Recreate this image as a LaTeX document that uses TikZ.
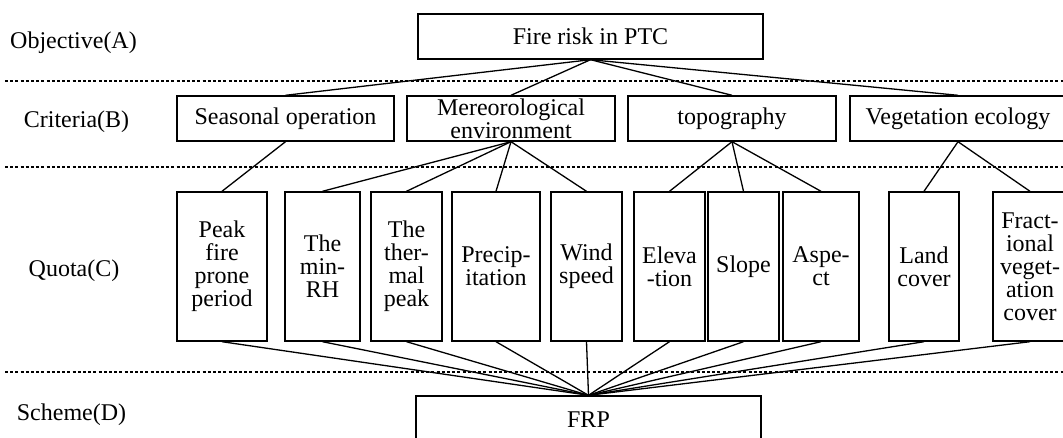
\documentclass[tikz,border=0pt]{standalone}
\usepackage{fontspec}
\setmainfont{Liberation Serif}

\begin{document}
\begin{tikzpicture}[x=1pt,y=-1pt,
    every node/.style={font=\fontsize{24}{23}\selectfont},
    box/.style={draw,line width=1.4pt,inner sep=0pt,align=center},
    crit/.style={box,minimum height=45pt},
    quota/.style={box,minimum height=149pt},
    link/.style={line width=1.3pt},
    level/.style={line width=1.3pt,dash pattern=on 3pt off 2.2pt}]
    \useasboundingbox (0,0) rectangle (1063,438);
    \clip (0,0) rectangle (1063,438);

    % level names
    \node (objA) at (73.5,42.5) {Objective(A)};
    \node (critB) at (76.5,122) {Criteria(B)};
    \node (quotaC) at (74,271) {Quota(C)};
    \node (schemeD) at (71.5,415) {Scheme(D)};

    % separators
    \draw[level] (5,81) -- (1063,81);
    \draw[level] (5,167) -- (1063,167);
    \draw[level] (5,372) -- (1063,372);

    % objective
    \node[box,minimum width=345pt,minimum height=45pt] (fire) at (590.5,36.5) {Fire risk in PTC};

    % criteria
    \node[crit,minimum width=217pt] (season) at (285.5,118.5) {Seasonal operation};
    \node[crit,minimum width=208pt] (meteo) at (511,118.5) {Mereorological\\environment};
    \node[crit,minimum width=208pt] (topo) at (732,118.5) {topography};
    \node[crit,minimum width=216pt] (veg) at (958,118.5) {Vegetation ecology};

    % quota
    \node[quota,minimum width=90pt] (peak) at (222,266.5) {Peak\\fire\\prone\\period};
    \node[quota,minimum width=75pt] (minrh) at (322.5,266.5) {The\\min-\\RH};
    \node[quota,minimum width=71pt] (thermal) at (406.5,266.5) {The\\ther-\\mal\\peak};
    \node[quota,minimum width=88pt] (precip) at (496,266.5) {Precip-\\itation};
    \node[quota,minimum width=71pt] (wind) at (586.5,266.5) {Wind\\speed};
    \node[quota,minimum width=71pt] (elev) at (669.5,266.5) {Eleva\\-tion};
    \node[quota,minimum width=71pt] (slope) at (743.5,266.5) {Slope};
    \node[quota,minimum width=76pt] (aspect) at (821,266.5) {Aspe-\\ct};
    \node[quota,minimum width=70pt] (land) at (924,266.5) {Land\\cover};
    \node[quota,minimum width=74pt] (frac) at (1030,266.5) {Fract-\\ional\\veget-\\ation\\cover};

    % scheme
    \node[box,minimum width=345pt,minimum height=48pt] (frp) at (588.5,420) {FRP};

    % links
    \foreach \c in {season,meteo,topo,veg}
      \draw[link] (fire.south) -- (\c.north);
    \draw[link] (season.south) -- (peak.north);
    \foreach \q in {minrh,thermal,precip,wind}
      \draw[link] (meteo.south) -- (\q.north);
    \foreach \q in {elev,slope,aspect}
      \draw[link] (topo.south) -- (\q.north);
    \foreach \q in {land,frac}
      \draw[link] (veg.south) -- (\q.north);
    \foreach \q in {peak,minrh,thermal,precip,wind,elev,slope,aspect,land,frac}
      \draw[link] (\q.south) -- (frp.north);
\end{tikzpicture}
\end{document}
